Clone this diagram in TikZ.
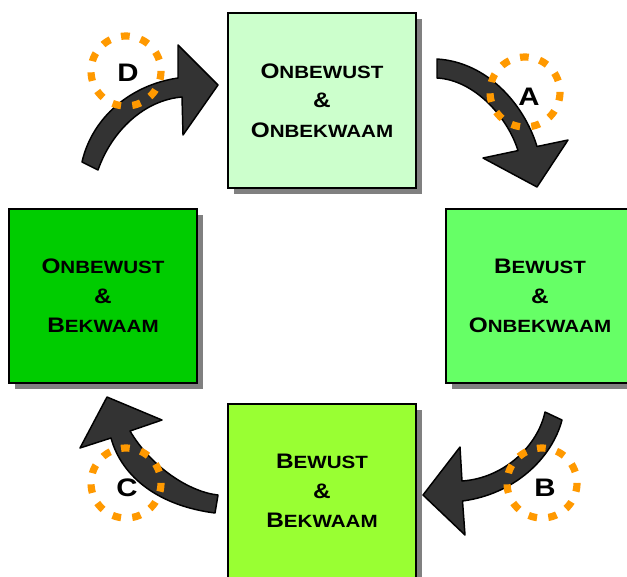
\documentclass[tikz,border=0pt]{standalone}
\usepackage{fontspec}
\usetikzlibrary{shadows}
\newfontfamily\boxfont{Liberation Sans}[FakeStretch=1.16]
\newcommand{\BigL}[1]{{\fontsize{15.75pt}{22.1pt}\selectfont #1}}
\newcommand{\SmL}[1]{{\fontsize{13.3pt}{22.1pt}\selectfont #1}}
\definecolor{shadowgray}{HTML}{808080}
\definecolor{arrowgray}{HTML}{333333}
\definecolor{ringorange}{HTML}{FF9900}
\definecolor{fillA}{HTML}{CCFFCC}
\definecolor{fillB}{HTML}{66FF66}
\definecolor{fillC}{HTML}{99FF33}
\definecolor{fillD}{HTML}{00CC00}
\tikzset{
  stagebox/.style={draw=black, line width=1.5pt, minimum width=141pt, minimum height=131pt,
    inner sep=0pt, align=center,
    font=\boxfont\bfseries\fontsize{15.75pt}{22.1pt}\selectfont,
    drop shadow={shadow xshift=4.5pt, shadow yshift=-4.5pt, fill=shadowgray, opacity=1}},
  bentarrow/.style={fill=arrowgray, draw=black, line width=1.1pt, line join=round},
  dotring/.style={draw=ringorange, line width=5.4pt, dash pattern=on 6.5pt off 8.49pt},
  letter/.style={font=\boxfont\bfseries\fontsize{19pt}{22pt}\selectfont, inner sep=0pt}
}
\begin{document}
\begin{tikzpicture}[x=0.75pt,y=-0.75pt]
\useasboundingbox (0,0) rectangle (627,576);
\clip (0,0) rectangle (627,576);
\fill[white] (0,0) rectangle (627,576);

% stage boxes
\node[stagebox, fill=fillA] (uu) at (322,100.5) {\BigL{O}\SmL{NBEWUST}\\\BigL{\&}\\\BigL{O}\SmL{NBEKWAAM}};
\node[stagebox, fill=fillB] (bu) at (540,296) {\BigL{B}\SmL{EWUST}\\\BigL{\&}\\\BigL{O}\SmL{NBEKWAAM}};
\node[stagebox, fill=fillC] (bb) at (322,491) {\BigL{B}\SmL{EWUST}\\\BigL{\&}\\\BigL{B}\SmL{EKWAAM}};
\node[stagebox, fill=fillD] (ub) at (103,296) {\BigL{O}\SmL{NBEWUST}\\\BigL{\&}\\\BigL{B}\SmL{EKWAAM}};

% arrow A (top right)
\draw[bentarrow] (437,59) .. controls (487,62) and (524,104) .. (537,146.5)
  -- (568,140) -- (537,187) -- (483,158) -- (518,150.6)
  .. controls (508,118) and (475,80) .. (437,78) -- cycle;
% arrow B (bottom right)
\draw[bentarrow] (545,412) .. controls (538,445) and (505,478) .. (462,481)
  -- (460,447) -- (423,495) -- (465,535) -- (462.5,501)
  .. controls (515,494) and (552,458) .. (562,420) -- cycle;
% arrow C (bottom left)
\draw[bentarrow] (218,495) .. controls (190,492) and (152,468) .. (130,431)
  -- (162,420) -- (107,397) -- (80,448) -- (111,438)
  .. controls (122,478) and (160,506) .. (215,513) -- cycle;
% arrow D (top left)
\draw[bentarrow] (82,162) .. controls (92,118) and (130,85) .. (178,78)
  -- (178,45) -- (218,85) -- (183,135) -- (182,97)
  .. controls (145,100) and (112,130) .. (98,170) -- cycle;

% dotted rings
\draw[dotring] (525,92) circle[radius=35];
\draw[dotring] (542,483) circle[radius=35];
\draw[dotring] (126,483) circle[radius=35];
\draw[dotring] (126,71) circle[radius=35];

% letters
\node[letter] (labA) at (529,97) {A};
\node[letter] (labB) at (545,488) {B};
\node[letter] (labC) at (127,488) {C};
\node[letter] (labD) at (128,73) {D};
\end{tikzpicture}
\end{document}
